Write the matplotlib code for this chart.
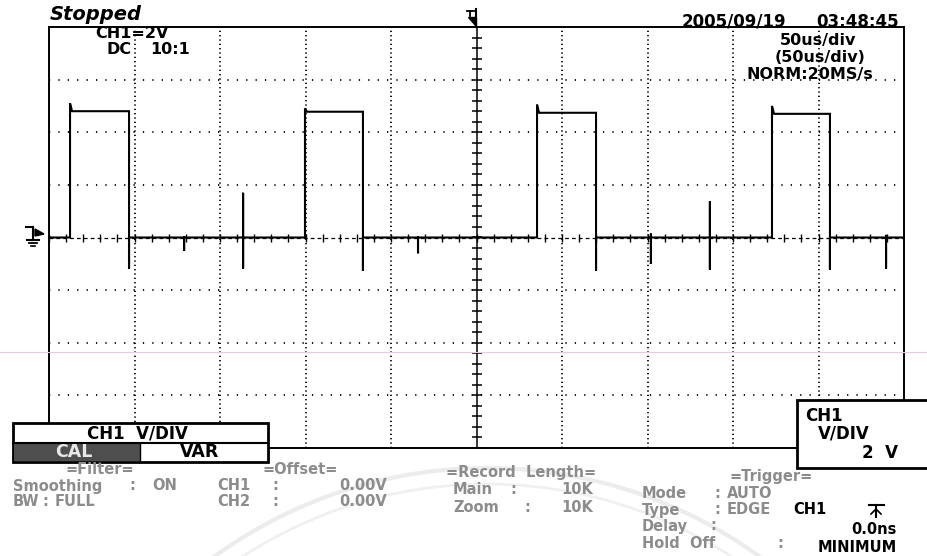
import numpy as np
import matplotlib
matplotlib.use('Agg')
import matplotlib.pyplot as plt
from matplotlib.patches import Rectangle, Polygon, Arc

# scope trace, time in us (50 us/div, 10 div), volts (2 V/div, 8 div)
t_rise = [12.3, 149.7, 285.4, 422.8]
t_fall = [46.8, 183.6, 319.9, 456.7]
v_peak = [5.10, 4.91, 5.05, 5.00]      # overshoot on rising edge
v_high = [4.80, 4.78, 4.74, 4.70]
v_under = [-1.18, -1.26, -1.26, -1.22]  # spike on falling edge
t_glitch = [79.0, 113.5, 215.8, 352.0, 386.5, 489.5]
v_glitch_hi = [0.0, 1.70, 0.0, 0.15, 1.37, 0.10]
v_glitch_lo = [-0.50, -1.18, -0.60, -1.00, -1.22, -1.18]

W, H = 927, 556
GREY = '#8c8c8c'
FONT = 'DejaVu Sans'

# build the polyline from the edges
events = [(tr, 'p', i) for i, tr in enumerate(t_rise)] + \
         [(tg, 'g', i) for i, tg in enumerate(t_glitch)]
events.sort()
t, v = [0.0], [0.0]
for tt, kind, i in events:
  if kind == 'p':
    tf = t_fall[i]
    t += [tt, tt, tt + 1.2, tf, tf, tf]
    v += [0.0, v_peak[i], v_high[i], v_high[i], v_under[i], 0.0]
  else:
    t += [tt, tt, tt, tt]
    v += [0.0, v_glitch_hi[i], v_glitch_lo[i], 0.0]
t.append(500.0)
v.append(0.0)

fig = plt.figure(figsize=(W / 100, H / 100), dpi=100)
fig.patch.set_facecolor('white')

left, right, top, bottom = 49, 904, 27, 448
ax = fig.add_axes([left / W, 1 - bottom / H, (right - left) / W, (bottom - top) / H])
ax.set_xlim(0, 500)
ax.set_ylim(-8, 8)
ax.set_xticks([])
ax.set_yticks([])
for s in ax.spines.values():
  s.set_linewidth(1.4)
  s.set_color('black')

# graticule
for x in np.arange(50, 500, 50):
  if x == 250: continue
  ax.axvline(x, color='black', lw=1.3, dashes=(0.7, 1.7), zorder=1)
for y in [-6, -4, -2, 2, 4, 6]:
  ax.axhline(y, color='black', lw=1.3, dashes=(0.7, 4.5), zorder=1)
ax.axvline(250, color='black', lw=1.1, zorder=1)
ax.axhline(0, color='black', lw=0.9, dashes=(3, 2.5), zorder=1)
ty = np.arange(-8, 8.01, 0.4)
ax.plot(np.full_like(ty, 250), ty, ls='none', marker='_', ms=7, mew=1.1, color='black', zorder=1)
tx = np.arange(0, 500.1, 10)
ax.plot(tx, np.zeros_like(tx), ls='none', marker='|', ms=6, mew=1.0, color='black', zorder=1)

ax.plot(t, v, color='black', lw=1.5, zorder=3, solid_joinstyle='miter')

# overlay in pixel coordinates for the screen furniture
ov = fig.add_axes([0, 0, 1, 1], zorder=5)
ov.set_xlim(0, W)
ov.set_ylim(H, 0)
ov.axis('off')
ov.patch.set_alpha(0)

# faint watermark and scan line
ov.add_patch(Arc((487, 932), 928, 928, theta1=180, theta2=360, color='#ececec', lw=3, zorder=0))
ov.add_patch(Arc((487, 932), 896, 896, theta1=180, theta2=360, color='#f0f0f0', lw=2, zorder=0))
ov.plot([0, W], [352, 352], color='#f3c4e6', lw=0.8, zorder=0)


def put(x, y, s, color='black', ha='left', size=10.5, **kw):
  ov.text(x, y, s, color=color, ha=ha, va='center', fontsize=size,
          fontweight='bold', family=FONT, **kw)


# top line
put(50, 14, 'Stopped', size=14, style='italic')
put(95, 33, 'CH1=2V', size=11.5)
put(107, 50, 'DC', size=11.5)
put(150, 50, '10:1', size=11.5)
put(682, 22, '2005/09/19', size=12)
put(899, 22, '03:48:45', ha='right', size=12)
put(818, 41, '50us/div', ha='center', size=11.5)
put(820, 58, '(50us/div)', ha='center', size=11.5)
put(810, 75, 'NORM:20MS/s', ha='center', size=11.5)

# ground and trigger markers
ov.plot([33, 33], [227, 240], color='black', lw=1.5)
ov.plot([26, 33], [227, 227], color='black', lw=1.5)
ov.plot([27, 39], [240, 240], color='black', lw=1.5)
ov.plot([29, 37], [243, 243], color='black', lw=1.3)
ov.plot([31, 35], [246, 246], color='black', lw=1.2)
ov.add_patch(Polygon([(35, 229), (44, 234), (35, 236)], color='black'))
ov.plot([476, 476], [9, 27], color='black', lw=1.5)
ov.add_patch(Polygon([(468, 17), (476, 17), (476, 26)], color='black'))
ov.plot([467, 474], [11, 11], color='black', lw=1.3)
ov.plot([470.5, 470.5], [11, 16], color='black', lw=1.3)

# left soft key box
ov.add_patch(Rectangle((13, 423), 255, 39, fc='white', ec='black', lw=2, zorder=2))
ov.add_patch(Rectangle((14, 443), 126, 18, fc='#4e4e4e', ec='none', zorder=3))
ov.plot([13, 268], [443, 443], color='black', lw=1.5, zorder=3)
ov.plot([140, 140], [443, 462], color='black', lw=1.0, zorder=3)
put(137, 433, 'CH1  V/DIV', ha='center', size=12, zorder=4)
put(74, 452, 'CAL', ha='center', size=12.5, color='#e8e8e8', zorder=4)
put(200, 452, 'VAR', ha='center', size=12.5, zorder=4)

# right soft key box
ov.add_patch(Rectangle((797, 400), 140, 68, fc='white', ec='black', lw=2, zorder=2))
put(805, 416, 'CH1', size=12, zorder=4)
put(818, 433, 'V/DIV', size=12, zorder=4)
put(898, 453, '2  V', ha='right', size=12, zorder=4)

# status block
put(100, 469, '=Filter=', ha='center', color=GREY)
put(13, 486, 'Smoothing', color=GREY)
put(132, 486, ':', ha='center', color=GREY)
put(152, 486, 'ON', color=GREY)
put(13, 502, 'BW', color=GREY)
put(45, 502, ':', ha='center', color=GREY)
put(55, 502, 'FULL', color=GREY)

put(300, 469, '=Offset=', ha='center', color=GREY)
put(217, 486, 'CH1', color=GREY)
put(275, 486, ':', ha='center', color=GREY)
put(387, 486, '0.00V', ha='right', color=GREY)
put(217, 502, 'CH2', color=GREY)
put(275, 502, ':', ha='center', color=GREY)
put(387, 502, '0.00V', ha='right', color=GREY)

put(521, 472, '=Record  Length=', ha='center', color=GREY)
put(453, 490, 'Main', color=GREY)
put(513, 490, ':', ha='center', color=GREY)
put(593, 490, '10K', ha='right', color=GREY)
put(453, 507, 'Zoom', color=GREY)
put(527, 507, ':', ha='center', color=GREY)
put(593, 507, '10K', ha='right', color=GREY)

put(771, 476, '=Trigger=', ha='center', color=GREY)
put(642, 493, 'Mode', color=GREY)
put(717, 493, ':', ha='center', color=GREY)
put(727, 493, 'AUTO', color=GREY)
put(642, 510, 'Type', color=GREY)
put(717, 510, ':', ha='center', color=GREY)
put(727, 510, 'EDGE', color=GREY)
put(793, 510, 'CH1')
ov.plot([869, 884], [505, 505], color='black', lw=1.5)
ov.plot([876, 876], [505, 517], color='black', lw=1.5)
ov.plot([871, 876, 881], [514, 509, 514], color='black', lw=1.2)
put(642, 526, 'Delay', color=GREY)
put(713, 526, ':', ha='center', color=GREY)
put(897, 530, '0.0ns', ha='right')
put(642, 543, 'Hold  Off', color=GREY)
put(780, 543, ':', ha='center', color=GREY)
put(897, 547, 'MINIMUM', ha='right')

fig.savefig('out.png', dpi=100, facecolor='white')
